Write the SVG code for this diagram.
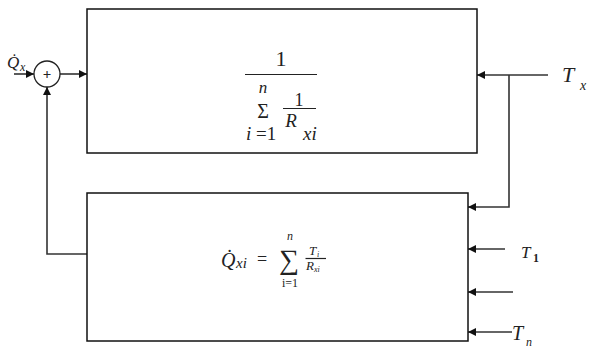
<svg xmlns="http://www.w3.org/2000/svg" width="590" height="349" viewBox="0 0 590 349">
<defs>
<style>
.box{fill:#fff;stroke:#111;stroke-width:1.5}
.ln{fill:none;stroke:#333;stroke-width:1.6}
.t{font-family:"Liberation Serif","DejaVu Serif","Times New Roman",serif;fill:#222}
.i{font-style:italic}
.fr{stroke:#222;stroke-width:1.2}
</style>
<marker id="ah" viewBox="0 0 10 10" refX="10" refY="5" markerWidth="8" markerHeight="8" markerUnits="userSpaceOnUse" orient="auto">
<path d="M0,0 L10,5 L0,10 z" fill="#111"/>
</marker>
</defs>
<rect width="590" height="349" fill="#fff"/>

<g id="connectors">
<path class="ln" d="M14,74 L34,74" marker-end="url(#ah)"/>
<path class="ln" d="M60,74 L87,74" marker-end="url(#ah)"/>
<path class="ln" d="M87,254 L47,254 L47,87" marker-end="url(#ah)"/>
<path class="ln" d="M548,75 L477,75" marker-end="url(#ah)"/>
<path class="ln" d="M509,75 L509,207 L468,207" marker-end="url(#ah)"/>
<path class="ln" d="M505,249 L468,249" marker-end="url(#ah)"/>
<path class="ln" d="M513,292 L468,292" marker-end="url(#ah)"/>
<path class="ln" d="M512,332 L468,332" marker-end="url(#ah)"/>
</g>

<g id="sum">
<circle cx="47" cy="74" r="13" fill="#fff" stroke="#222" stroke-width="1.3"/>
<text class="t" x="47" y="79" font-size="15" font-weight="bold" text-anchor="middle">+</text>
</g>

<g id="input-qx">
<text class="t i" x="7" y="68" font-size="17">Q̇</text>
<text class="t i" x="20" y="71" font-size="12">x</text>
</g>

<g id="block-top">
<rect class="box" x="87" y="9" width="390" height="144"/>
<text class="t" x="281" y="66" font-size="22" text-anchor="middle">1</text>
<line class="fr" x1="245" y1="74.5" x2="317" y2="74.5"/>
<text class="t i" x="263" y="93" font-size="17" text-anchor="middle">n</text>
<text class="t" x="263" y="118" font-size="20" text-anchor="middle">Σ</text>
<text class="t" x="299" y="106" font-size="18" text-anchor="middle">1</text>
<line class="fr" x1="283" y1="108.5" x2="316" y2="108.5"/>
<text class="t i" x="291" y="127" font-size="19" text-anchor="middle">R</text>
<text class="t" x="246" y="140" font-size="19"><tspan class="i">i</tspan> =1</text>
<text class="t i" x="303" y="140" font-size="19">xi</text>
</g>

<g id="block-bottom">
<rect class="box" x="87" y="193" width="381" height="148"/>
<text class="t i" x="221" y="267" font-size="20">Q̇</text>
<text class="t i" x="236" y="268" font-size="15">xi</text>
<text class="t" x="257" y="265" font-size="18">=</text>
<text class="t i" x="290" y="240" font-size="12" text-anchor="middle">n</text>
<text class="t" x="289" y="269" font-size="28" text-anchor="middle">∑</text>
<text class="t" x="290" y="287" font-size="12" text-anchor="middle">i=1</text>
<text class="t i" x="309" y="255" font-size="13">T</text>
<text class="t i" x="317" y="257" font-size="8">i</text>
<line class="fr" x1="305.5" y1="258.5" x2="326" y2="258.5"/>
<text class="t i" x="306" y="270" font-size="13">R</text>
<text class="t i" x="314" y="272" font-size="8">xi</text>
</g>

<g id="label-tx">
<text class="t i" x="562" y="82" font-size="22">T</text>
<text class="t i" x="580" y="90" font-size="14">x</text>
</g>
<g id="label-t1">
<text class="t i" x="521" y="258" font-size="17">T</text>
<text class="t" x="533" y="262" font-size="12" font-weight="bold">1</text>
</g>
<g id="label-tn">
<text class="t i" x="512" y="340" font-size="20">T</text>
<text class="t i" x="526" y="346" font-size="12">n</text>
</g>
</svg>
